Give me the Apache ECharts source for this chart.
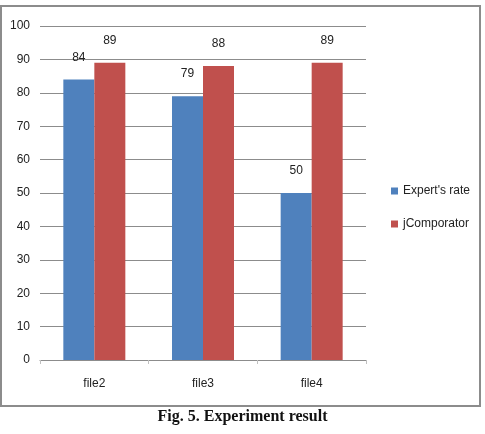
<!DOCTYPE html>
<html>
<head>
<meta charset="utf-8">
<script src="https://cdn.jsdelivr.net/npm/echarts@6/dist/echarts.min.js"></script>
<style>
body { margin: 0; background: #fff; }
#container { width: 485px; height: 434px; }
</style>
</head>
<body>
<div id="container"></div>
<script>
var categories = ['file2', 'file3', 'file4'];
var expertRate = [84, 79, 50];
var jComporator = [89, 88, 89];
var yTicks = [0, 10, 20, 30, 40, 50, 60, 70, 80, 90, 100];

var dom = document.getElementById("container");
var myChart = echarts.init(dom);
var font = '"Liberation Sans Narrow", "Liberation Sans", sans-serif';

var option = {
    backgroundColor: '#fff',
    animation: false,
    textStyle: { fontFamily: font },
    graphic: [
        {
            type: 'rect',
            shape: { x: 1, y: 6, width: 479, height: 400 },
            style: { fill: 'none', stroke: '#8c8c8c', lineWidth: 2 }
        },
        {
            type: 'text',
            left: 'center',
            top: 409,
            style: {
                text: 'Fig. 5. Experiment result',
                font: 'bold 16px "Liberation Serif", serif',
                fill: '#111'
            }
        }
    ],
    legend: {
        orient: 'vertical',
        left: 386,
        top: 180,
        itemWidth: 7,
        itemHeight: 7,
        itemGap: 21,
        icon: 'rect',
        textStyle: { fontSize: 12, color: '#222', fontFamily: font },
        data: ["Expert's rate", 'jComporator']
    },
    grid: { left: 40, right: 119, top: 26, bottom: 74, containLabel: false },
    xAxis: {
        type: 'category',
        data: categories,
        axisLine: { lineStyle: { color: '#8c8c8c' } },
        axisTick: { show: true, alignWithLabel: false, length: 4, lineStyle: { color: '#c0c0c0' } },
        axisLabel: { color: '#222', fontSize: 12, margin: 18 }
    },
    yAxis: {
        type: 'value',
        min: yTicks[0],
        max: yTicks[yTicks.length - 1],
        interval: 10,
        axisLine: { show: false },
        axisTick: { show: false },
        splitLine: { lineStyle: { color: '#8c8c8c' } },
        axisLabel: { color: '#222', fontSize: 12, margin: 10 }
    },
    series: [
        {
            name: "Expert's rate",
            type: 'bar',
            data: expertRate,
            barWidth: 31,
            barGap: '0%',
            itemStyle: { color: '#4F81BD' },
            label: { show: true, position: 'top', distance: 16, color: '#222', fontSize: 12 }
        },
        {
            name: 'jComporator',
            type: 'bar',
            data: jComporator,
            barWidth: 31,
            itemStyle: { color: '#C0504D' },
            label: { show: true, position: 'top', distance: 16, color: '#222', fontSize: 12 }
        }
    ]
};

if (option && typeof option === "object") {
    myChart.setOption(option, true);
}
</script>
</body>
</html>
